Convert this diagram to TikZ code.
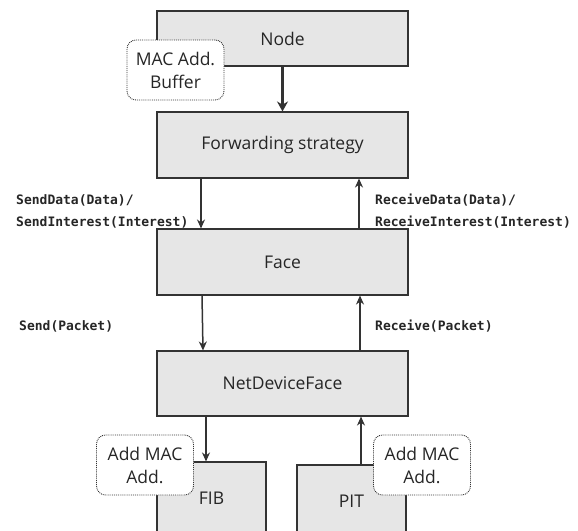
\documentclass[tikz,border=0pt]{standalone}
\usepackage{fontspec}
\setmainfont{Open Sans}
\setmonofont{DejaVu Sans Mono}
\usetikzlibrary{arrows.meta}
\definecolor{boxfill}{HTML}{E6E6E6}
\definecolor{ink}{HTML}{333333}
\begin{document}
\begin{tikzpicture}[x=1pt,y=-1pt,
  block/.style={draw=ink, line width=1.1pt, fill=boxfill, minimum width=251pt,
    inner sep=0pt, font=\fontsize{17.5}{21}\selectfont, text=black!85},
  table/.style={draw=ink, line width=1.1pt, fill=boxfill, minimum width=109pt,
    minimum height=72pt, inner sep=0pt, font=\fontsize{17.5}{21}\selectfont, text=black!85},
  note/.style={draw=ink, densely dotted, line width=0.9pt, fill=white, rounded corners=9pt,
    minimum width=97pt, minimum height=60pt, align=center, inner sep=0pt,
    font=\fontsize{17.5}{23}\selectfont, text=black!85},
  call/.style={font=\ttfamily\bfseries\fontsize{13}{22}\selectfont, align=left,
    anchor=west, inner sep=0pt, text=black!85},
  flow/.style={draw=ink, line width=1.5pt, -{Stealth[length=9pt,width=8pt]}},
  bigflow/.style={draw=ink, line width=2.6pt, -{Stealth[length=10pt,width=11pt]}}]
\useasboundingbox (0,0) rectangle (578,530);

% protocol layers
\node[block, minimum height=55pt] (node) at (282.5,38.5) {Node};
\node[block, minimum height=66pt] (fwd)  at (282.5,145)  {Forwarding strategy};
\node[block, minimum height=66pt] (face) at (282.5,262)  {Face};
\node[block, minimum height=65pt] (ndf)  at (282.5,383.5) {NetDeviceFace};

% tables below the device face
\node[table] (fib) at (211.5,498) {FIB};
\node[table] (pit) at (351.5,501) {PIT};

% connectors between layers
\draw[bigflow] (node.south) -- (fwd.north);
\draw[flow] (fwd.south -| 201,0) -- (face.north -| 201,0);
\draw[flow] (face.north -| 359,0) -- (fwd.south -| 359,0);
\draw[flow] (face.south -| 202,0) -- (ndf.north -| 203,0);
\draw[flow] (ndf.north -| 360,0) -- (face.south -| 360,0);
\draw[flow] (ndf.south -| 206,0) -- (fib.north -| 206,0);
\draw[flow] (pit.north -| 361,0) -- (ndf.south -| 361,0);

% call labels
\node[call] (sendlbl) at (16,211) {SendData(Data)/\\SendInterest(Interest)};
\node[call] (recvlbl) at (375,211) {ReceiveData(Data)/\\ReceiveInterest(Interest)};
\node[call] (sendpkt) at (19,326) {Send(Packet)};
\node[call] (recvpkt) at (375,326) {Receive(Packet)};

% annotations
\node[note] (buffer) at (175.5,70) {MAC Add.\\Buffer};
\node[note] (addl)   at (145,465) {Add MAC\\Add.};
\node[note] (addr)   at (422,465) {Add MAC\\Add.};
\end{tikzpicture}
\end{document}
